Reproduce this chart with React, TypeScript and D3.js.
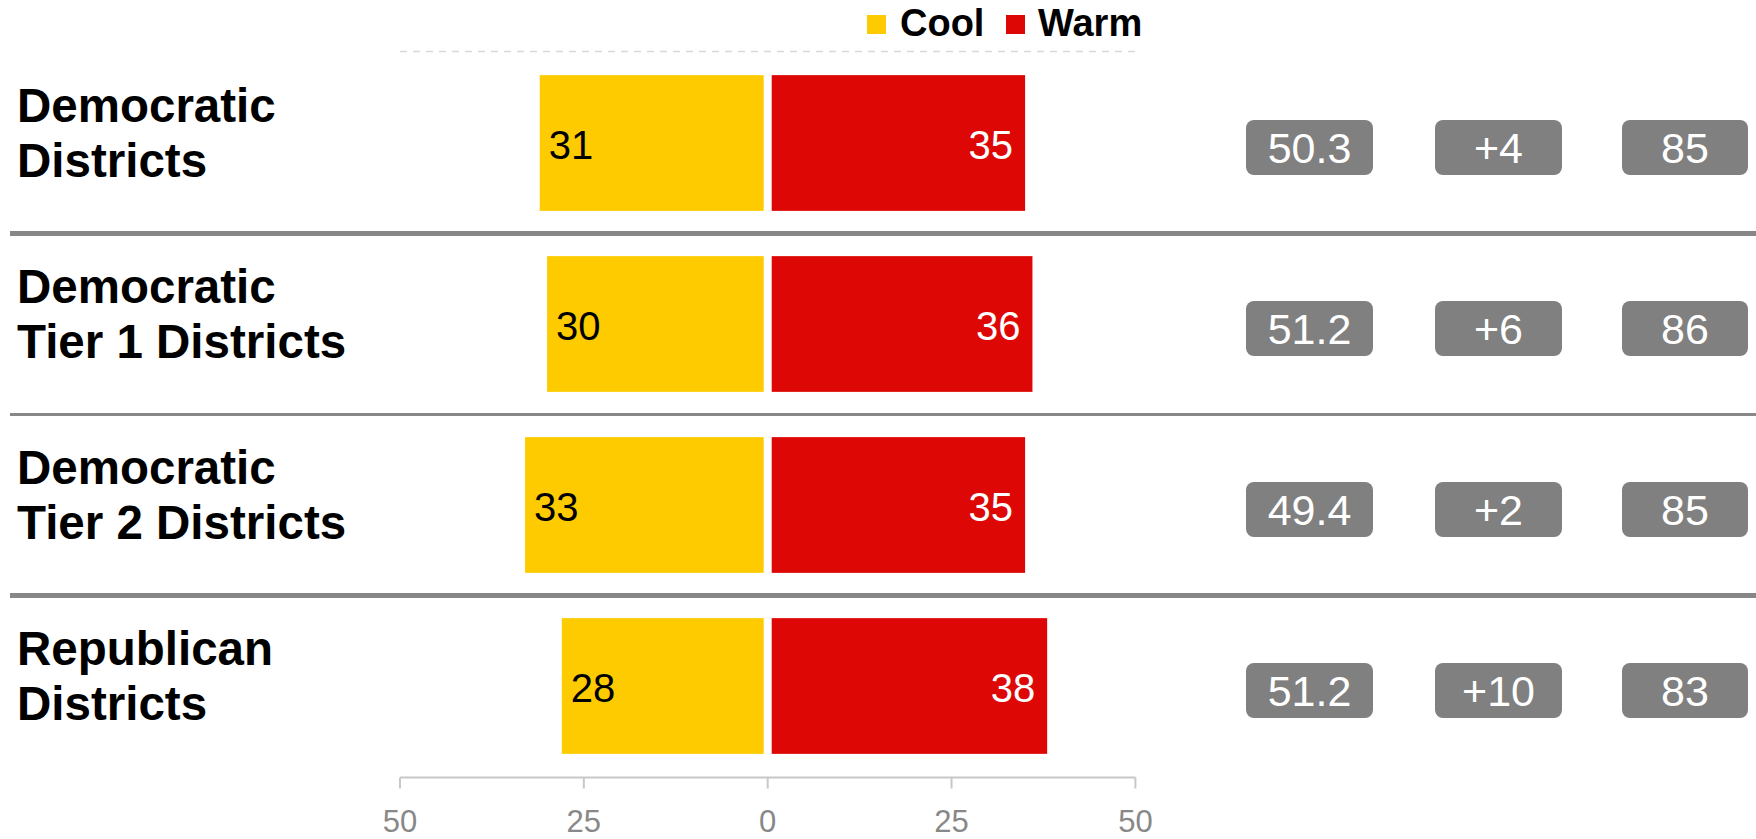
import React from "react";
import * as d3 from "d3";

const rowLabels: string[][] = [
  ["Democratic", "Districts"],
  ["Democratic", "Tier 1 Districts"],
  ["Democratic", "Tier 2 Districts"],
  ["Republican", "Districts"],
];
const coolValues = [31, 30, 33, 28];
const warmValues = [35, 36, 35, 38];
const colA = ["50.3", "51.2", "49.4", "51.2"];
const colB = ["+4", "+6", "+2", "+10"];
const colC = ["85", "86", "85", "83"];
const axisTicks = [-50, -25, 0, 25, 50];
const separatorWidths = [5, 3, 5];

const W = 1756;
const H = 839;
const FONT = "'Liberation Sans', Arial, Helvetica, sans-serif";
const YELLOW = "#FECB00";
const RED = "#DD0806";
const GRAY = "#808080";

export default function App() {
  const x = d3.scaleLinear().domain([-50, 50]).range([400, 1135.4]);
  const y = d3
    .scaleBand<number>()
    .domain(d3.range(rowLabels.length))
    .range([52.5, 776.5])
    .paddingInner(0);
  const bw = y.bandwidth();
  const barH = bw * 0.75;
  const gap = 4;
  const boxCols = [
    { x0: 1246, x1: 1373, vals: colA },
    { x0: 1435, x1: 1562, vals: colB },
    { x0: 1622, x1: 1748, vals: colC },
  ];
  const boxH = 55;
  const axisY = 777.5;

  return (
    <svg
      width={W}
      height={H}
      style={{ position: "absolute", left: 0, top: 0, display: "block", background: "#fff" }}
      fontFamily={FONT}
    >
      {/* Legend */}
      <rect x={867} y={15} width={19} height={19} fill={YELLOW} />
      <text x={900} y={36} fontSize={38} fontWeight="bold" fill="#000">Cool</text>
      <rect x={1006} y={15} width={19} height={19} fill={RED} />
      <text x={1038} y={36} fontSize={38} fontWeight="bold" fill="#000">Warm</text>
      <line
        x1={x(-50)}
        x2={x(50)}
        y1={51.5}
        y2={51.5}
        stroke="#d9d9d9"
        strokeWidth={1.5}
        strokeDasharray="7,6"
      />

      {/* Separators */}
      {separatorWidths.map((sw, i) => {
        const yy = (y(i)! + bw / 2 + y(i + 1)! + bw / 2) / 2;
        return <line key={i} x1={10} x2={W} y1={yy} y2={yy} stroke="#878787" strokeWidth={sw} />;
      })}

      {rowLabels.map((lines, i) => {
        const cy = y(i)! + bw / 2;
        return (
          <g key={i}>
            <text x={17} y={cy - 21} fontSize={47.5} fontWeight="bold" fill="#000">{lines[0]}</text>
            <text x={17} y={cy + 34} fontSize={47.5} fontWeight="bold" fill="#000">{lines[1]}</text>
            {/* Cool bar */}
            <rect
              x={x(-coolValues[i])}
              y={cy - barH / 2}
              width={x(0) - gap - x(-coolValues[i])}
              height={barH}
              fill={YELLOW}
            />
            <text x={x(-coolValues[i]) + 9} y={cy + 16} fontSize={40} fill="#000">{coolValues[i]}</text>
            {/* Warm bar */}
            <rect
              x={x(0) + gap}
              y={cy - barH / 2}
              width={x(warmValues[i]) - x(0) - gap}
              height={barH}
              fill={RED}
            />
            <text x={x(warmValues[i]) - 12} y={cy + 16} fontSize={40} fill="#fff" textAnchor="end">{warmValues[i]}</text>
            {/* Boxes */}
            {boxCols.map((c, j) => (
              <g key={j}>
                <rect x={c.x0} y={cy + 4.5 - boxH / 2} width={c.x1 - c.x0} height={boxH} rx={8} ry={8} fill={GRAY} />
                <text x={(c.x0 + c.x1) / 2} y={cy + 4.5 + 15.5} fontSize={43} fill="#fff" textAnchor="middle">{c.vals[i]}</text>
              </g>
            ))}
          </g>
        );
      })}

      {/* Axis */}
      <line x1={x(-50)} x2={x(50)} y1={axisY} y2={axisY} stroke="#c8c8c8" strokeWidth={2} />
      {axisTicks.map((t) => (
        <g key={t}>
          <line x1={x(t)} x2={x(t)} y1={axisY} y2={axisY + 11} stroke="#c8c8c8" strokeWidth={2} />
          <text x={x(t)} y={832} fontSize={31} fill="#888" textAnchor="middle">{Math.abs(t)}</text>
        </g>
      ))}
    </svg>
  );
}
